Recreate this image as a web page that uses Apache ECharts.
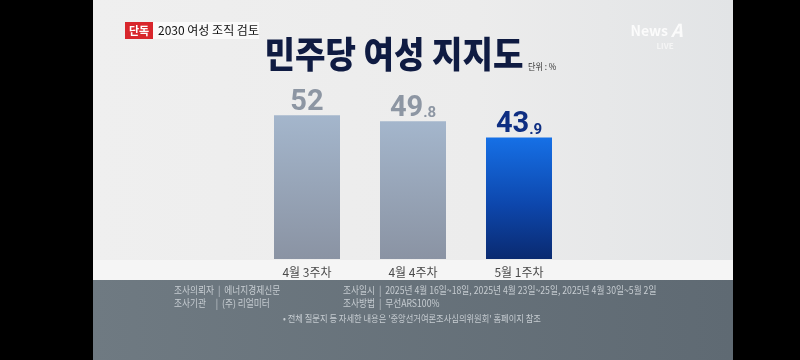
<!DOCTYPE html>
<html><head><meta charset="utf-8">
<script src="https://cdn.jsdelivr.net/npm/echarts@6/dist/echarts.min.js"></script>
<style>html,body{margin:0;padding:0;background:#000}#c{width:800px;height:360px}</style>
</head><body><div id="c"></div>
<script>
const categories = ['4월 3주차', '4월 4주차', '5월 1주차'];
const values = [52, 49.8, 43.9];
const yTicks = [0, 60];
const title = '민주당 여성 지지도';
const unit = '단위 : %';
const tagRed = '단독';
const tagText = '2030 여성 조직 검토';
const footRows = [
  ['조사의뢰자  |  에너지경제신문', '조사일시  |  2025년 4월 16일~18일, 2025년 4월 23일~25일, 2025년 4월 30일~5월 2일'],
  ['조사기관     |  (주) 리얼미터', '조사방법  |  무선ARS100%']
];
const footNote = '• 전체 질문지 등 자세한 내용은 \'중앙선거여론조사심의위원회\' 홈페이지 참조';

const chart = echarts.init(document.getElementById('c'));
const F = '"Noto Sans CJK KR", "Noto Sans", sans-serif';
const grayGrad = new echarts.graphic.LinearGradient(0,0,0,1,[{offset:0,color:'#a4b6cc'},{offset:1,color:'#8a93a3'}]);
const blueGrad = new echarts.graphic.LinearGradient(0,0,0,1,[{offset:0,color:'#1670e6'},{offset:0.55,color:'#0d47ad'},{offset:1,color:'#0a2a70'}]);

function labelFmt(p){
  const s = String(p.value);
  const parts = s.split('.');
  const key = p.dataIndex === 2 ? 'b' : 'g';
  return '{' + key + '|' + parts[0] + '}' + (parts[1] ? '{' + key + 's|.' + parts[1] + '}' : '');
}
const footColor = '#c6ccd1';
function ftext(x, y, t, size){
  return {type:'text', x:x, y:y, scaleX:0.87, style:{text:t, fill:footColor, font:size+'px '+F, textVerticalAlign:'middle'}};
}

chart.setOption({
  backgroundColor: '#000',
  animation: false,
  graphic: [
    {type:'rect', shape:{x:93,y:0,width:640,height:280}, style:{fill:new echarts.graphic.LinearGradient(0,0,1,0,[{offset:0,color:'#efefef'},{offset:0.6,color:'#ececec'},{offset:1,color:'#e2e4e6'}])}, z:-10},
    {type:'rect', shape:{x:93,y:260,width:640,height:20}, style:{fill:'#f5f5f5'}, z:-7},
    {type:'rect', shape:{x:93,y:280,width:640,height:80}, style:{fill:new echarts.graphic.LinearGradient(0,0,1,0,[{offset:0,color:'#6f7a82'},{offset:1,color:'#5f6a73'}])}, z:-7},
    {type:'rect', shape:{x:125,y:22,width:28,height:17}, style:{fill:'#d8262c'}},
    {type:'text', x:139, y:30.5, style:{text:tagRed, fill:'#fff', font:'bold 11px '+F, textAlign:'center', textVerticalAlign:'middle'}},
    {type:'rect', shape:{x:153,y:22,width:106,height:17}, style:{fill:'#fafafa'}},
    {type:'text', x:158, y:30.5, style:{text:tagText, fill:'#111', font:'12px '+F, textVerticalAlign:'middle'}},
    {type:'text', x:394, y:54, scaleX:0.92, style:{text:title, fill:'#0f1b42', font:'900 36px '+F, textAlign:'center', textVerticalAlign:'middle'}},
    {type:'text', x:528, y:67, scaleX:0.9, style:{text:unit, fill:'#333', font:'9px '+F, textVerticalAlign:'middle'}},
    {type:'text', x:668, y:31, style:{text:'News', fill:'#fbfbfb', font:'bold 14px '+F, textAlign:'right', textVerticalAlign:'middle'}},
    {type:'text', x:671, y:30, style:{text:'A', fill:'#fbfbfb', font:'italic bold 18px '+F, textVerticalAlign:'middle'}},
    {type:'text', x:665, y:46, style:{text:'LIVE', fill:'#f5f5f5', font:'bold 8px '+F, textAlign:'center', textVerticalAlign:'middle'}},
    ftext(174, 290, footRows[0][0], 10),
    ftext(343, 290, footRows[0][1], 10),
    ftext(174, 303, footRows[1][0], 10),
    ftext(343, 303, footRows[1][1], 10),
    ftext(283, 318, footNote, 9.5)
  ],
  grid: {left: 254, width: 318, top: 93, bottom: 101, containLabel: false},
  xAxis: {
    type: 'category', data: categories,
    axisLine: {show:false}, axisTick: {show:false},
    axisLabel: {color:'#4a4a4a', fontSize:12, fontFamily:F, margin:7}
  },
  yAxis: {type:'value', min: yTicks[0], max: yTicks[1], show:false, splitLine:{show:false}},
  series: [{
    type: 'bar', barWidth: 66,
    data: values.map((v,i)=>({value:v, itemStyle:{color: i===2 ? blueGrad : grayGrad}})),
    label: {
      show: true, position: 'top', distance: -2, formatter: labelFmt,
      rich: {
        g: {fontSize: 29, fontWeight: 'bold', color:'#8d96a3', fontFamily:'Roboto, sans-serif'},
        gs: {fontSize: 15, fontWeight: 'bold', color:'#8d96a3', fontFamily:'Roboto, sans-serif', verticalAlign:'bottom', padding:[0,0,2,0]},
        b: {fontSize: 29, fontWeight: 'bold', color:'#0e2e82', fontFamily:'Roboto, sans-serif'},
        bs: {fontSize: 15, fontWeight: 'bold', color:'#0e2e82', fontFamily:'Roboto, sans-serif', verticalAlign:'bottom', padding:[0,0,2,0]}
      }
    }
  }]
});
</script></body></html>
